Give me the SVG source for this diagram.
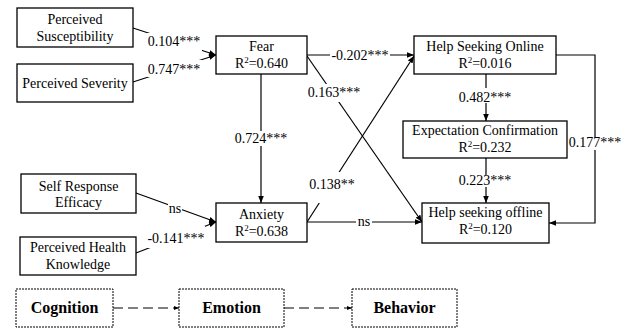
<svg xmlns="http://www.w3.org/2000/svg" width="626" height="329" viewBox="0 0 626 329">
<style>
.box{fill:#fff;stroke:#000;stroke-width:1.3}
.lbox{fill:#fff;stroke:#000;stroke-width:1;stroke-dasharray:2,1}
.t{font-family:"Liberation Serif","Times New Roman",serif;font-size:14px;fill:#000;text-anchor:middle}
.lt{font-family:"Liberation Serif","Times New Roman",serif;font-size:16px;font-weight:bold;fill:#000;text-anchor:middle}
.ln{fill:none;stroke:#000;stroke-width:1.2}
.dl{fill:none;stroke:#000;stroke-width:1;stroke-dasharray:10,5}
.mask{fill:#fff}
.sup{font-size:9px}
</style>
<defs>
<marker id="ah" viewBox="0 0 10 10" refX="10" refY="5" markerWidth="7" markerHeight="7" markerUnits="userSpaceOnUse" orient="auto">
<path d="M0,1 L10,5 L0,9 Z" fill="#000"/>
</marker>
<marker id="ahs" viewBox="0 0 10 10" refX="10" refY="5" markerWidth="5" markerHeight="5" markerUnits="userSpaceOnUse" orient="auto">
<path d="M0,1 L10,5 L0,9 Z" fill="#000"/>
</marker>
</defs>

<g id="connectors">
<line class="ln" x1="133" y1="28" x2="216" y2="55" marker-end="url(#ah)"/>
<line class="ln" x1="133" y1="82" x2="216" y2="55" marker-end="url(#ah)"/>
<line class="ln" x1="136" y1="193" x2="216" y2="222" marker-end="url(#ah)"/>
<line class="ln" x1="136" y1="253" x2="216" y2="222" marker-end="url(#ah)"/>
<line class="ln" x1="307" y1="55" x2="414" y2="55" marker-end="url(#ah)"/>
<line class="ln" x1="307" y1="56" x2="422" y2="222" marker-end="url(#ah)"/>
<line class="ln" x1="261" y1="74" x2="261" y2="203" marker-end="url(#ah)"/>
<line class="ln" x1="307" y1="222" x2="414" y2="56" marker-end="url(#ah)"/>
<line class="ln" x1="307" y1="222" x2="422" y2="222" marker-end="url(#ah)"/>
<line class="ln" x1="486" y1="74" x2="486" y2="121" marker-end="url(#ah)"/>
<line class="ln" x1="486" y1="158" x2="486" y2="203" marker-end="url(#ah)"/>
<polyline class="ln" points="556,55 595,55 595,223 549,223" marker-end="url(#ah)"/>
<line class="dl" x1="113" y1="308" x2="179" y2="308" marker-end="url(#ahs)"/>
<line class="dl" x1="284" y1="308" x2="352" y2="308" marker-end="url(#ahs)"/>

<g id="labels">
<rect class="mask" x="146" y="33" width="56" height="18"/>
<text class="t" x="174" y="46">0.104***</text>
<rect class="mask" x="146" y="60" width="56" height="17"/>
<text class="t" x="174" y="74">0.747***</text>
<rect class="mask" x="330" y="48" width="60" height="14"/>
<text class="t" x="360" y="60">-0.202***</text>
<rect class="mask" x="306" y="84" width="57" height="18"/>
<text class="t" x="334" y="97">0.163***</text>
<rect class="mask" x="233" y="131" width="56" height="15"/>
<text class="t" x="261" y="143">0.724***</text>
<rect class="mask" x="309" y="172" width="48" height="31"/>
<text class="t" x="332" y="189">0.138**</text>
<rect class="mask" x="356" y="216" width="16" height="12"/>
<text class="t" x="364" y="226">ns</text>
<rect class="mask" x="168" y="203" width="14" height="11"/>
<text class="t" x="175" y="213">ns</text>
<rect class="mask" x="147" y="226" width="58" height="22"/>
<text class="t" x="176" y="243">-0.141***</text>
<rect class="mask" x="566" y="137" width="57" height="13"/>
<text class="t" x="595" y="147">0.177***</text>
<rect class="mask" x="457" y="88" width="57" height="15"/>
<text class="t" x="485" y="102">0.482***</text>
<rect class="mask" x="457" y="175" width="57" height="12"/>
<text class="t" x="485" y="185">0.223***</text>
</g>
</g>

<g id="susceptibility">
<rect class="box" x="17" y="8" width="116" height="39"/>
<text class="t" x="75" y="24">Perceived</text>
<text class="t" x="75" y="41">Susceptibility</text>
</g>
<g id="severity">
<rect class="box" x="17" y="64" width="116" height="38"/>
<text class="t" x="75" y="88">Perceived Severity</text>
</g>
<g id="efficacy">
<rect class="box" x="21" y="174" width="115" height="39"/>
<text class="t" x="78.5" y="191">Self Response</text>
<text class="t" x="78.5" y="207">Efficacy</text>
</g>
<g id="knowledge">
<rect class="box" x="20" y="237" width="116" height="38"/>
<text class="t" x="78" y="252">Perceived Health</text>
<text class="t" x="78" y="269">Knowledge</text>
</g>
<g id="fear">
<rect class="box" x="216" y="36" width="91" height="38"/>
<text class="t" x="261.5" y="51">Fear</text>
<text class="t" x="261.5" y="68">R<tspan class="sup" dy="-5">2</tspan><tspan dy="5">=0.640</tspan></text>
</g>
<g id="anxiety">
<rect class="box" x="216" y="203" width="91" height="39"/>
<text class="t" x="261.5" y="219">Anxiety</text>
<text class="t" x="261.5" y="236">R<tspan class="sup" dy="-5">2</tspan><tspan dy="5">=0.638</tspan></text>
</g>
<g id="online">
<rect class="box" x="414" y="36" width="142" height="38"/>
<text class="t" x="485" y="51">Help Seeking Online</text>
<text class="t" x="485" y="68">R<tspan class="sup" dy="-5">2</tspan><tspan dy="5">=0.016</tspan></text>
</g>
<g id="expectation">
<rect class="box" x="403" y="121" width="164" height="37"/>
<text class="t" x="485" y="135">Expectation Confirmation</text>
<text class="t" x="485" y="152">R<tspan class="sup" dy="-5">2</tspan><tspan dy="5">=0.232</tspan></text>
</g>
<g id="offline">
<rect class="box" x="422" y="203" width="127" height="40"/>
<text class="t" x="485.5" y="217">Help seeking offline</text>
<text class="t" x="485.5" y="234">R<tspan class="sup" dy="-5">2</tspan><tspan dy="5">=0.120</tspan></text>
</g>

<g id="cognition">
<rect class="lbox" x="16" y="289" width="97" height="38"/>
<text class="lt" x="64.5" y="313">Cognition</text>
</g>
<g id="emotion">
<rect class="lbox" x="179" y="289" width="105" height="38"/>
<text class="lt" x="231.5" y="313">Emotion</text>
</g>
<g id="behavior">
<rect class="lbox" x="352" y="289" width="105" height="38"/>
<text class="lt" x="404.5" y="313">Behavior</text>
</g>
</svg>
